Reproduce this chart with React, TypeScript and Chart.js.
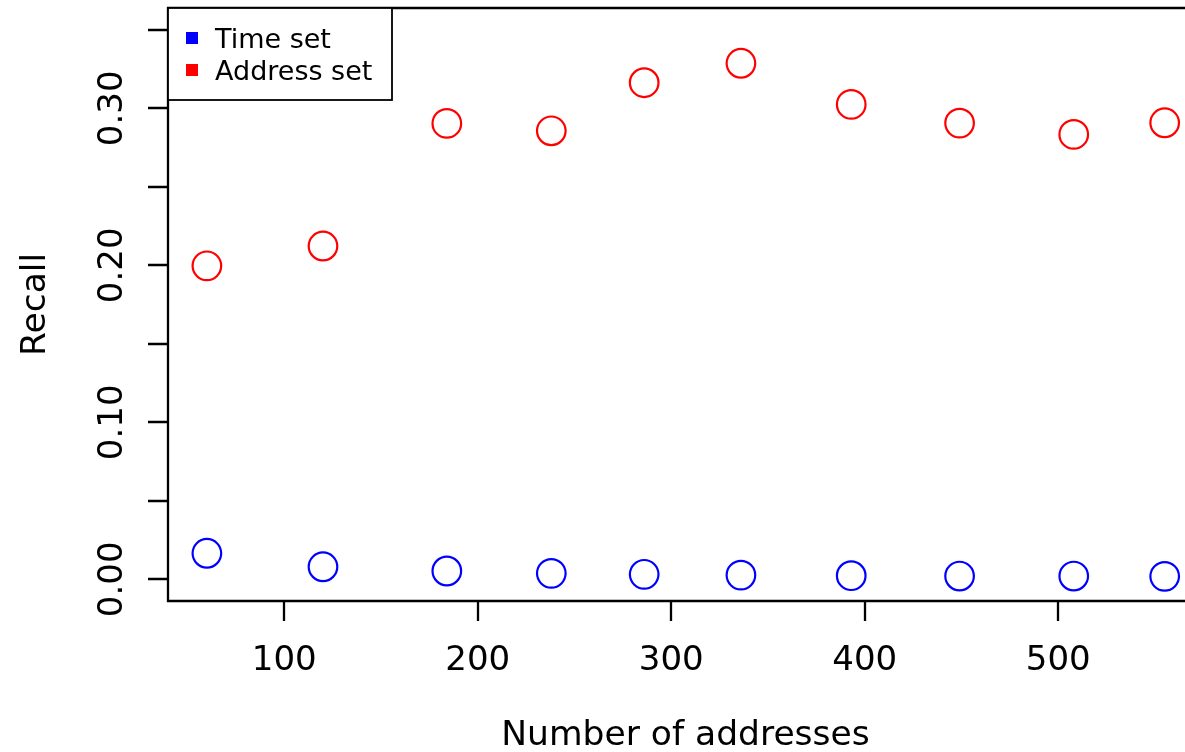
import React, { useEffect, useRef } from "react";
import { Chart, registerables } from "chart.js";

Chart.register(...registerables);

const numAddresses = [60, 120, 184, 238, 286, 336, 393, 449, 508, 555];
const timeSetRecall = [0.0166, 0.0080, 0.0053, 0.0038, 0.0032, 0.0027, 0.0023, 0.0021, 0.0021, 0.0019];
const addressSetRecall = [0.1997, 0.2123, 0.2904, 0.2857, 0.3163, 0.3287, 0.3025, 0.2906, 0.2834, 0.2908];
const seriesNames = ["Time set", "Address set"];
const seriesColors = ["#0000FF", "#FF0000"];
const xTickValues = [100, 200, 300, 400, 500];
const yTickValues = [0, 0.05, 0.1, 0.15, 0.2, 0.25, 0.3, 0.35];
const yLabelValues = [0, 0.1, 0.2, 0.3];
const xTitle = "Number of addresses";
const yTitle = "Recall";

const FONT = "'DejaVu Sans', sans-serif";

const rAxesPlugin = {
  id: "rAxes",
  afterDatasetsDraw(chart: any) {
    const ctx = chart.ctx;
    const { left, top, right, bottom } = chart.chartArea;
    const xs = chart.scales.x;
    const ys = chart.scales.y;
    ctx.save();
    ctx.strokeStyle = "#000";
    ctx.fillStyle = "#000";
    ctx.lineWidth = 2.3;
    // box (right side is beyond the visible canvas)
    ctx.beginPath();
    ctx.moveTo(right + 5, top);
    ctx.lineTo(left, top);
    ctx.lineTo(left, bottom);
    ctx.lineTo(right + 5, bottom);
    ctx.stroke();

    // y ticks
    ctx.beginPath();
    yTickValues.forEach((v) => {
      const y = Math.round(ys.getPixelForValue(v));
      ctx.moveTo(left, y);
      ctx.lineTo(left - 20, y);
    });
    // x ticks
    xTickValues.forEach((v) => {
      const x = Math.round(xs.getPixelForValue(v));
      ctx.moveTo(x, bottom);
      ctx.lineTo(x, bottom + 20);
    });
    ctx.stroke();

    // y labels
    ctx.font = "34px " + FONT;
    ctx.textAlign = "center";
    ctx.textBaseline = "alphabetic";
    yLabelValues.forEach((v) => {
      const y = ys.getPixelForValue(v);
      ctx.save();
      ctx.translate(122, y);
      ctx.rotate(-Math.PI / 2);
      ctx.fillText(v.toFixed(2), 0, 0);
      ctx.restore();
    });
    // x labels
    xTickValues.forEach((v) => {
      const x = xs.getPixelForValue(v);
      ctx.fillText(String(v), x, 670);
    });

    // titles
    ctx.font = "34.5px " + FONT;
    ctx.fillText(xTitle, 685.5, 745);
    ctx.save();
    ctx.translate(45, (top + bottom) / 2);
    ctx.rotate(-Math.PI / 2);
    ctx.fillText(yTitle, 0, 0);
    ctx.restore();

    // legend
    ctx.fillStyle = "#fff";
    ctx.fillRect(left, top, 392 - left, 100 - top);
    ctx.lineWidth = 1.8;
    ctx.strokeStyle = "#000";
    ctx.strokeRect(left, top, 392 - left, 100 - top);
    ctx.font = "27px " + FONT;
    ctx.textAlign = "left";
    const rows = [38, 70];
    seriesNames.forEach((name, i) => {
      ctx.fillStyle = seriesColors[i];
      ctx.fillRect(186, rows[i] - 6, 12, 12);
      ctx.fillStyle = "#000";
      ctx.fillText(name, 215, rows[i] + 10);
    });
    ctx.restore();
  },
};

export default function App() {
  const ref = useRef<HTMLCanvasElement | null>(null);
  useEffect(() => {
    if (!ref.current) return;
    const mk = (vals: number[]) => numAddresses.map((x, i) => ({ x, y: vals[i] }));
    const chart = new Chart(ref.current, {
      type: "scatter",
      data: {
        datasets: [
          {
            label: seriesNames[0],
            data: mk(timeSetRecall),
            borderColor: seriesColors[0],
            backgroundColor: "rgba(0,0,0,0)",
            pointRadius: 14.3,
            pointBorderWidth: 2.2,
          },
          {
            label: seriesNames[1],
            data: mk(addressSetRecall),
            borderColor: seriesColors[1],
            backgroundColor: "rgba(0,0,0,0)",
            pointRadius: 14.3,
            pointBorderWidth: 2.2,
          },
        ],
      },
      options: {
        animation: false,
        responsive: false,
        devicePixelRatio: 1,
        layout: { autoPadding: false, padding: { left: 168, top: 8, right: 0, bottom: 151 } },
        plugins: { legend: { display: false }, tooltip: { enabled: false } },
        scales: {
          x: { type: "linear", display: false, min: 39.9, max: 565.5 },
          y: { type: "linear", display: false, min: -0.0138, max: 0.3639 },
        },
      },
      plugins: [rAxesPlugin],
    });
    return () => chart.destroy();
  }, []);
  return (
    <div style={{ position: "fixed", left: 0, top: 0, width: 1185, height: 752, overflow: "hidden", background: "#fff" }}>
      <canvas ref={ref} width={1185} height={752} style={{ display: "block", width: 1185, height: 752 }} />
    </div>
  );
}
